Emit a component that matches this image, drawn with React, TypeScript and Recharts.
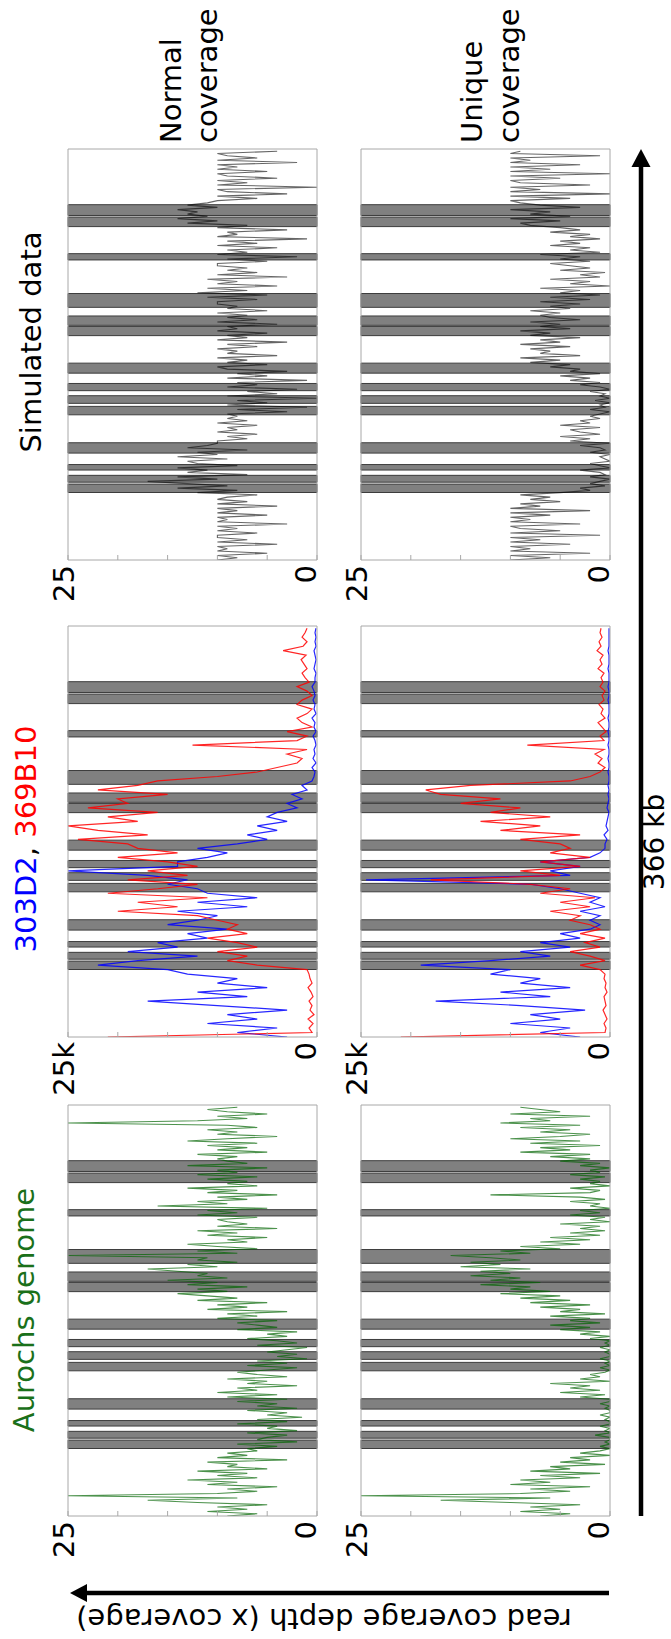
import React from 'react';
import { LineChart, Line, XAxis, YAxis, ReferenceArea } from 'recharts';

// 4 kb bins (kb) used for the BAC clone panels
const binStartKb = [
  0, 4, 8, 12, 16, 20, 24, 28, 32, 36, 40, 44, 48, 52, 56, 60, 64, 68, 72, 76, 80, 84, 88,
  92, 96, 100, 104, 108, 112, 116, 120, 124, 128, 132, 136, 140, 144, 148, 152, 156, 160,
  164, 168, 172, 176, 180, 184, 188, 192, 196, 200, 204, 208, 212, 216, 220, 224, 228, 232,
  236, 240, 244, 248, 252, 256, 260, 264, 268, 272, 276, 280, 284, 288, 292, 296, 300, 304,
  308, 312, 316, 320, 324, 328, 332, 336, 340, 344, 348, 352, 356, 360, 364,
];

// 2 kb bins (kb) used for the genome and simulated panels
const fineBinKb = [
  0, 2, 4, 6, 8, 10, 12, 14, 16, 18, 20, 22, 24, 26, 28, 30, 32, 34, 36, 38, 40, 42, 44, 46,
  48, 50, 52, 54, 56, 58, 60, 62, 64, 66, 68, 70, 72, 74, 76, 78, 80, 82, 84, 86, 88, 90, 92,
  94, 96, 98, 100, 102, 104, 106, 108, 110, 112, 114, 116, 118, 120, 122, 124, 126, 128, 130,
  132, 134, 136, 138, 140, 142, 144, 146, 148, 150, 152, 154, 156, 158, 160, 162, 164, 166,
  168, 170, 172, 174, 176, 178, 180, 182, 184, 186, 188, 190, 192, 194, 196, 198, 200, 202,
  204, 206, 208, 210, 212, 214, 216, 218, 220, 222, 224, 226, 228, 230, 232, 234, 236, 238,
  240, 242, 244, 246, 248, 250, 252, 254, 256, 258, 260, 262, 264, 266, 268, 270, 272, 274,
  276, 278, 280, 282, 284, 286, 288, 290, 292, 294, 296, 298, 300, 302, 304, 306, 308, 310,
  312, 314, 316, 318, 320, 322, 324, 326, 328, 330, 332, 334, 336, 338, 340, 342, 344, 346,
  348, 350, 352, 354, 356, 358, 360, 362, 364,
];

// repeat regions (grey bands), kb
const repeatStartKb = [60.1, 69.3, 80.1, 95.2, 129.3, 139.5, 150.8, 166.4, 199.8, 209, 225, 267.2, 296.9, 306.8];
const repeatEndKb = [67.6, 75.4, 85, 104.4, 136.8, 146.3, 157.2, 175.3, 208, 217.3, 237.3, 272.8, 305.4, 316.4];

const positionTicksKb = [49, 147, 245, 343];
const coverageTicks = [0, 5, 10, 15, 20, 25];

// Aurochs genome (x coverage), 2 kb bins
const aurochsNormal = [
  9, 6, 11, 7, 10, 5, 12, 17, 8, 25, 10, 6, 9, 4, 11, 8, 13, 6, 10, 7, 12, 5, 9, 8, 11, 3, 10, 7, 9, 6,
  7, 4, 8, 2, 6, 5, 3, 7, 2, 5, 4, 8, 3, 6, 1.5, 5, 3, 7, 2, 6, 4, 8, 3,
  9, 4, 10, 6, 8, 2, 7, 5, 9, 3, 6, 8,
  5, 2, 7, 3, 6, 1, 4, 2, 5, 3, 1, 6, 2, 4, 7, 3, 5, 2, 8, 4, 6,
  8, 4, 10, 6, 9, 3, 11, 7, 10, 5, 12, 8, 11, 14, 9, 12, 7, 13, 10, 15, 9, 12, 11, 14, 17, 10, 13, 8, 12,
  11, 25, 8, 12, 6, 10, 13, 7, 9, 5, 11, 8, 12, 4, 10, 7, 9,
  10, 6, 12, 8, 11, 5, 16, 9, 12, 7, 10, 4, 11, 8, 13, 6, 9, 7,
  11, 6, 12, 8, 10, 5, 13, 7, 9, 10,
  8, 12, 5, 10, 7, 11, 6, 13, 9, 4, 10, 8, 11, 6, 9, 25, 12, 7, 10, 5, 9, 11, 8,
];
const aurochsUnique = [
  7, 4, 9, 5, 8, 3, 10, 17, 6, 25, 9, 4, 8, 2, 10, 6, 9, 3, 7, 1, 8, 4, 6, 0.5, 5, 2, 4, 0, 3, 1,
  0, 1, 0, 0.5, 0, 0, 1.5, 0, 0.5, 0, 1, 0, 0, 0.5, 0, 1, 0, 0, 0.5, 0, 1, 0, 0,
  3, 0.5, 5, 1, 4, 2, 6, 0, 3, 1, 2, 0.5,
  0, 1, 0, 0.5, 0, 1, 0, 0, 0.5, 0, 1, 0, 0.5, 0, 2, 0, 3, 1, 5, 2, 6,
  1, 4, 2, 6, 0.5, 5, 3, 7, 2, 8, 4, 9, 5, 11, 6, 10, 8, 13, 7, 12, 9, 14, 10, 13, 8, 15, 11, 14, 9,
  12, 16, 8, 11, 5, 9, 3, 7, 2, 6, 1, 4, 0.5, 3, 1, 5, 0,
  2, 0.5, 4, 1, 3, 0, 2, 1, 4, 0.5, 3, 12, 2, 1, 4, 0, 2, 1,
  3, 0.5, 4, 1, 2, 0, 3, 1, 5, 2,
  6, 2, 9, 4, 7, 1, 8, 3, 10, 5, 2, 7, 4, 9, 3, 11, 6, 8, 2, 10, 5, 7, 9,
];

// BAC clones (thousands of reads), 4 kb bins
const clone303Normal = [
  3, 8, 4, 11, 6, 9, 3, 10, 17, 7, 12, 5, 10, 8, 13,
  15, 22, 18, 12, 19, 14, 16, 11, 13, 9, 15, 12,
  10, 14, 7, 12, 6, 11,
  12, 15, 13, 17, 25, 14, 14, 11, 9, 12,
  8, 5, 7, 4, 6, 3, 5, 4, 2, 3, 1.5, 2.5, 1, 1.5, 0.5,
  0.3, 0.2, 0.5, 0.1, 0.4, 0.2, 0.3, 0.1,
  0.2, 0.4, 0.1, 0.3, 0.2, 0.5, 0.1, 0.3, 0.2,
  0.4, 0.2, 0.3, 0.5, 0.2,
  0.2, 0.1, 0.3, 0.2, 0.1, 0.2, 0.3, 0.1, 0.2, 0.1, 0.2, 0.1,
];
const clone369Normal = [
  21, 0.5, 0.8, 0.4, 0.9, 0.3, 0.7, 0.5, 0.8, 0.4, 0.6, 0.9, 0.5, 0.7, 0.8,
  1, 6, 9, 7, 10, 6, 8, 11, 7, 9, 8, 10,
  12, 20, 14, 18, 11, 21,
  16, 12, 19, 13, 17, 12, 15, 20, 14, 18,
  19, 24, 17, 22, 25, 18, 21, 16, 23, 19, 20, 15, 22, 18, 16,
  10, 6, 4, 2, 1.5, 3, 1, 12.5,
  2, 1, 3, 0.5, 1.5, 2, 1, 0.5, 2,
  1.5, 0.5, 1, 2, 0.8,
  1.2, 1.5, 1.0, 1.3, 1.6, 1.1, 3.4, 1.4, 1.0, 1.5, 1.2, 1.0,
];
const clone303Unique = [
  3, 7, 4, 10, 5, 8, 2.5, 9, 17.5, 6, 11, 4, 9, 7, 12,
  10, 19, 12, 6, 9, 4, 7, 3, 5, 2, 1, 2,
  1, 3, 0.5, 2, 1, 3,
  5, 8, 24.5, 4, 6, 3, 7, 2, 1, 0.5,
  0.5, 0.3, 0.6, 0.2, 0.4, 0.3, 0.2, 0.1, 0.3, 0.2, 0.1, 0.2, 0.1, 0.2, 0.1,
  0.1, 0.2, 0.1, 0.1, 0.2, 0.1, 0.1, 0.2,
  0.1, 0.1, 0.2, 0.1, 0.1, 0.2, 0.1, 0.1, 0.1,
  0.2, 0.1, 0.1, 0.2, 0.1,
  0.1, 0.1, 0.2, 0.1, 0.1, 0.1, 0.2, 0.1, 0.1, 0.1, 0.1, 0.1,
];
const clone369Unique = [
  21, 0.5, 0.4, 0.6, 0.3, 0.5, 0.7, 0.4, 0.5, 0.6, 0.3, 0.5, 0.4, 0.6, 0.5,
  1, 3, 0.5, 2, 4, 1, 2.5, 0.5, 3, 1, 2, 4,
  3, 6, 2, 5, 1.5, 7,
  4, 8, 18, 5, 9, 3, 7, 2, 6, 4,
  5, 9, 3, 11, 7, 13, 6, 12, 9, 15, 11, 17, 18.5, 14, 4,
  2, 1, 0.5, 1.2, 0.8, 1.5, 0.6, 8.3,
  0.6, 1.0, 0.4, 0.8, 1.2, 0.5, 0.9, 0.7, 1.1, 0.6, 0.8, 0.5, 1.0,
  0.7, 0.9, 0.6, 1.2, 0.8, 1.0, 0.7, 1.3, 0.9, 1.1, 0.8, 1.0, 0.9,
];

// simulated reads (x coverage), 2 kb bins
const simNormal = [
  10, 8, 10, 5, 10, 9, 10, 4, 10, 7, 10, 10, 6, 10, 8, 10, 3, 10, 9, 10, 5, 10, 8, 10, 4, 10, 7, 10, 9, 6,
  12, 8, 14, 9, 13, 17, 10, 14, 7, 13, 11, 14, 8, 12, 13, 9, 14, 10, 12, 7, 13, 11, 10,
  10, 7, 9, 6, 10, 8, 9, 6, 10, 7, 9, 8,
  9, 3, 8, 1, 9, 5, 8, 0, 9, 4, 7, 2, 9, 6, 8, 1, 9, 5, 8, 3, 9,
  10, 5, 9, 7, 10, 4, 9, 8, 10, 6, 9, 3, 10, 7, 9, 5, 10, 8, 9, 4, 10, 6, 9, 7, 10, 5, 9, 8, 10,
  10, 6, 11, 5, 12, 7, 11, 4, 10, 8, 11, 3, 10, 6, 9, 7, 10,
  10, 5, 9, 2, 10, 7, 9, 4, 10, 6, 9, 1, 10, 8, 9, 3, 10, 7,
  13, 10, 14, 11, 13, 12, 14, 10, 13, 11,
  10, 6, 10, 3, 9, 10, 0, 10, 7, 10, 4, 9, 10, 5, 10, 8, 10, 2, 10, 6, 9, 10, 4,
];
const simUnique = [
  10, 6, 10, 2, 10, 8, 10, 4, 10, 7, 10, 1, 10, 5, 9, 10, 3, 10, 8, 10, 6, 10, 2, 10, 7, 9, 5, 8, 6, 9,
  5, 2, 3, 0.5, 2, 1, 0, 2, 0.5, 1, 3, 0, 1, 2, 0, 0.5, 1, 0, 2, 0.5, 1, 3, 0,
  4, 2, 5, 1, 3, 4, 1, 5, 2, 3, 1, 2,
  1, 0, 2, 0.5, 1, 0, 1.5, 0, 1, 0.5, 2, 0, 1, 3, 1, 4, 2, 5, 1, 4, 3,
  6, 4, 8, 5, 9, 3, 7, 6, 8, 4, 9, 5, 7, 3, 8, 6, 9, 4, 7, 5, 8, 3, 6, 7, 5, 8, 4, 6, 3,
  7, 2, 6, 1, 5, 3, 7, 0, 4, 2, 6, 1, 3, 0.5, 5, 2, 4,
  6, 2, 5, 3, 7, 1, 4, 2, 6, 3, 5, 1, 4, 2, 6, 3, 5, 8,
  9, 5, 10, 4, 8, 6, 10, 3, 7, 9,
  10, 4, 10, 0, 10, 7, 10, 2, 9, 10, 5, 10, 0, 10, 6, 10, 3, 10, 8, 10, 1, 10, 9,
];

const cloneRows = binStartKb.map((pos, i) => ({
  pos,
  clone303Normal: clone303Normal[i],
  clone369Normal: clone369Normal[i],
  clone303Unique: clone303Unique[i],
  clone369Unique: clone369Unique[i],
}));

const fineRows = fineBinKb.map((pos, i) => ({
  pos,
  aurochsNormal: aurochsNormal[i],
  aurochsUnique: aurochsUnique[i],
  simNormal: simNormal[i],
  simUnique: simUnique[i],
}));

const FONT = '"DejaVu Sans", Verdana, sans-serif';
const FRAME = '#a8a8a8';
const PLOT_W = 411;
const PLOT_H = 249;
const AXIS_W = 80;
const PAD = 3;
const PAD_TOP = 22;
const PAD_BOTTOM = 12;
const GAP = 5;

const GREEN = '#006400';
const BLUE = '#0000ff';
const RED = '#ff0000';

// panel origins in the un-rotated figure
const COL_X = [123, 602, 1079];
const ROW_Y = [68, 361];

interface SeriesDef {
  key: string;
  color: string;
  opacity: number;
  width: number;
}

const CoverageTick = (props: any) => {
  const { x, y, payload, suffix } = props;
  const v = Number(payload.value);
  const label = v === 0 ? '0' : v === 25 ? `25${suffix}` : null;
  return (
    <g>
      <line x1={x + GAP} x2={x + GAP + 5} y1={y} y2={y} stroke={FRAME} />
      {label && (
        <text
          x={x}
          y={v === 0 ? y - 1 : y + 6}
          textAnchor="end"
          fontSize={29}
          fontFamily={FONT}
          fill="#000"
        >
          {label}
        </text>
      )}
    </g>
  );
};

const CoveragePanel: React.FC<{
  col: number;
  row: number;
  data: any[];
  series: SeriesDef[];
  suffix?: string;
}> = ({ col, row, data, series, suffix = '' }) => (
  <div style={{ position: 'absolute', left: COL_X[col] - AXIS_W, top: ROW_Y[row] - PAD_TOP }}>
    <LineChart
      width={AXIS_W + PLOT_W + PAD}
      height={PLOT_H + PAD_TOP + PAD_BOTTOM}
      data={data}
      margin={{ top: PAD_TOP, right: PAD, bottom: PAD_BOTTOM, left: 0 }}
    >
      <XAxis
        dataKey="pos"
        type="number"
        domain={[0, 366]}
        allowDataOverflow
        ticks={positionTicksKb}
        interval={0}
        tick={false}
        tickSize={5}
        mirror
        axisLine={{ stroke: FRAME }}
        tickLine={{ stroke: FRAME }}
      />
      <XAxis
        xAxisId="top"
        orientation="top"
        type="number"
        domain={[0, 366]}
        allowDataOverflow
        ticks={positionTicksKb}
        interval={0}
        tick={false}
        tickSize={5}
        mirror
        axisLine={{ stroke: FRAME }}
        tickLine={{ stroke: FRAME }}
      />
      <YAxis
        type="number"
        domain={[0, 25]}
        allowDataOverflow
        ticks={coverageTicks}
        interval={0}
        width={AXIS_W}
        tickSize={0}
        tickMargin={GAP}
        tickLine={false}
        axisLine={{ stroke: FRAME }}
        tick={(p: any) => <CoverageTick {...p} suffix={suffix} />}
      />
      <YAxis
        yAxisId="right"
        orientation="right"
        type="number"
        domain={[0, 25]}
        allowDataOverflow
        ticks={coverageTicks}
        interval={0}
        tick={false}
        tickSize={5}
        mirror
        axisLine={{ stroke: FRAME }}
        tickLine={{ stroke: FRAME }}
      />
      {repeatStartKb.map((start, i) => (
        <ReferenceArea
          key={i}
          x1={start}
          x2={repeatEndKb[i]}
          fill="#808080"
          fillOpacity={1}
          stroke="#3c3c3c"
          strokeWidth={1}
        />
      ))}
      {series.map((s) => (
        <Line
          key={s.key}
          dataKey={s.key}
          type="linear"
          stroke={s.color}
          strokeOpacity={s.opacity}
          strokeWidth={s.width}
          dot={false}
          activeDot={false}
          isAnimationActive={false}
        />
      ))}
    </LineChart>
  </div>
);

const Annotations = () => (
  <svg width={1639} height={671} style={{ position: 'absolute', left: 0, top: 0 }} fontFamily={FONT}>
    {/* column titles */}
    <text x={329} y={34} fontSize={29} textAnchor="middle" fill="#1a701a">
      Aurochs genome
    </text>
    <text x={800} y={36} fontSize={29} textAnchor="middle">
      <tspan fill={BLUE}>303D2</tspan>
      <tspan fill="#000">, </tspan>
      <tspan fill={RED}>369B10</tspan>
    </text>
    <text x={1297} y={41} fontSize={29} textAnchor="middle" fill="#000">
      Simulated data
    </text>

    {/* row labels */}
    <text x={1496} y={181} fontSize={29} fill="#000">Normal</text>
    <text x={1496} y={217} fontSize={29} fill="#000">coverage</text>
    <text x={1496} y={482} fontSize={29} fill="#000">Unique</text>
    <text x={1496} y={519} fontSize={29} fill="#000">coverage</text>

    {/* coverage axis */}
    <line x1={46} y1={609} x2={46} y2={84} stroke="#000" strokeWidth={4.5} />
    <polygon points="46,70 37,87 55,87" fill="#000" />
    <text
      x={20}
      y={324}
      fontSize={29}
      textAnchor="middle"
      dominantBaseline="central"
      transform="rotate(-90 20 324)"
      fill="#000"
    >
      read coverage depth (x coverage)
    </text>

    {/* position axis */}
    <line x1={123} y1={641} x2={1476} y2={641} stroke="#000" strokeWidth={4.5} />
    <polygon points="1490,641 1472,631.5 1472,650.5" fill="#000" />
    <text x={797} y={664} fontSize={28} textAnchor="middle" fill="#000">
      366 kb
    </text>
  </svg>
);

const greenLine = (key: string): SeriesDef => ({ key, color: GREEN, opacity: 0.7, width: 1.1 });
const simLine = (key: string): SeriesDef => ({ key, color: '#000', opacity: 0.6, width: 1.1 });

export default function App() {
  return (
    <div
      style={{
        position: 'absolute',
        left: 0,
        top: 0,
        width: 671,
        height: 1639,
        overflow: 'hidden',
        background: '#fff',
        fontFamily: FONT,
      }}
    >
      <div
        style={{
          position: 'absolute',
          left: 0,
          top: 0,
          width: 1639,
          height: 671,
          transformOrigin: '0 0',
          transform: 'translate(0px, 1639px) rotate(-90deg)',
        }}
      >
        <Annotations />
        <CoveragePanel col={0} row={0} data={fineRows} series={[greenLine('aurochsNormal')]} />
        <CoveragePanel col={0} row={1} data={fineRows} series={[greenLine('aurochsUnique')]} />
        <CoveragePanel
          col={1}
          row={0}
          data={cloneRows}
          suffix="k"
          series={[
            { key: 'clone303Normal', color: BLUE, opacity: 0.85, width: 1.2 },
            { key: 'clone369Normal', color: RED, opacity: 0.85, width: 1.2 },
          ]}
        />
        <CoveragePanel
          col={1}
          row={1}
          data={cloneRows}
          suffix="k"
          series={[
            { key: 'clone303Unique', color: BLUE, opacity: 0.85, width: 1.2 },
            { key: 'clone369Unique', color: RED, opacity: 0.85, width: 1.2 },
          ]}
        />
        <CoveragePanel col={2} row={0} data={fineRows} series={[simLine('simNormal')]} />
        <CoveragePanel col={2} row={1} data={fineRows} series={[simLine('simUnique')]} />
      </div>
    </div>
  );
}
